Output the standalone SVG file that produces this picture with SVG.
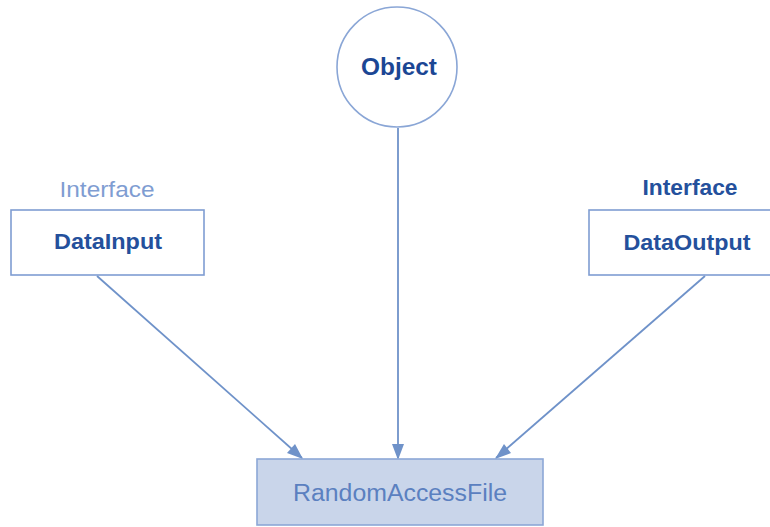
<svg xmlns="http://www.w3.org/2000/svg" width="770" height="527" viewBox="0 0 770 527">
<defs>
<style>
.box{fill:#ffffff;stroke:#7f9dd2;stroke-width:1.6}
.raf{fill:#c9d5ea;stroke:#8ca7d6;stroke-width:1.6}
.lbl{font-family:"Liberation Sans",Arial,sans-serif;text-anchor:middle}
.edge{stroke:#6f92c9;stroke-width:1.8;fill:none}
.head{fill:#6f92c9}
</style>
</defs>
<rect width="770" height="527" fill="#ffffff"/>
<g id="connectors">
<line class="edge" x1="97" y1="276" x2="302" y2="458"/>
<path class="head" d="M303,459 L287,453 L295,444 Z"/>
<line class="edge" x1="398" y1="128" x2="398" y2="458"/>
<path class="head" d="M398,460 L392,444 L404,444 Z"/>
<line class="edge" x1="705" y1="276" x2="496" y2="458"/>
<path class="head" d="M495,459 L504,444 L511,453 Z"/>
</g>
<g id="object">
<circle cx="397" cy="67" r="60" fill="#ffffff" stroke="#8aa6d6" stroke-width="1.6"/>
<text class="lbl" x="399" y="75" font-size="23" fill="#1b4694" font-weight="bold" textLength="76" lengthAdjust="spacingAndGlyphs">Object</text>
</g>
<g id="datainput">
<text class="lbl" x="107" y="197" font-size="22" fill="#7f9dd2" textLength="95" lengthAdjust="spacingAndGlyphs">Interface</text>
<rect class="box" x="11" y="210" width="193" height="65"/>
<text class="lbl" x="108" y="249" font-size="22" fill="#24509c" font-weight="bold" textLength="108" lengthAdjust="spacingAndGlyphs">DataInput</text>
</g>
<g id="dataoutput">
<text class="lbl" x="690" y="195" font-size="22" fill="#24509c" font-weight="bold" textLength="95" lengthAdjust="spacingAndGlyphs">Interface</text>
<rect class="box" x="589" y="210" width="190" height="65"/>
<text class="lbl" x="687" y="250" font-size="22" fill="#24509c" font-weight="bold" textLength="127" lengthAdjust="spacingAndGlyphs">DataOutput</text>
</g>
<g id="randomaccessfile">
<rect class="raf" x="257" y="459" width="286" height="66"/>
<text class="lbl" x="400" y="501" font-size="23" fill="#5b80c0" textLength="214" lengthAdjust="spacingAndGlyphs">RandomAccessFile</text>
</g>
</svg>
